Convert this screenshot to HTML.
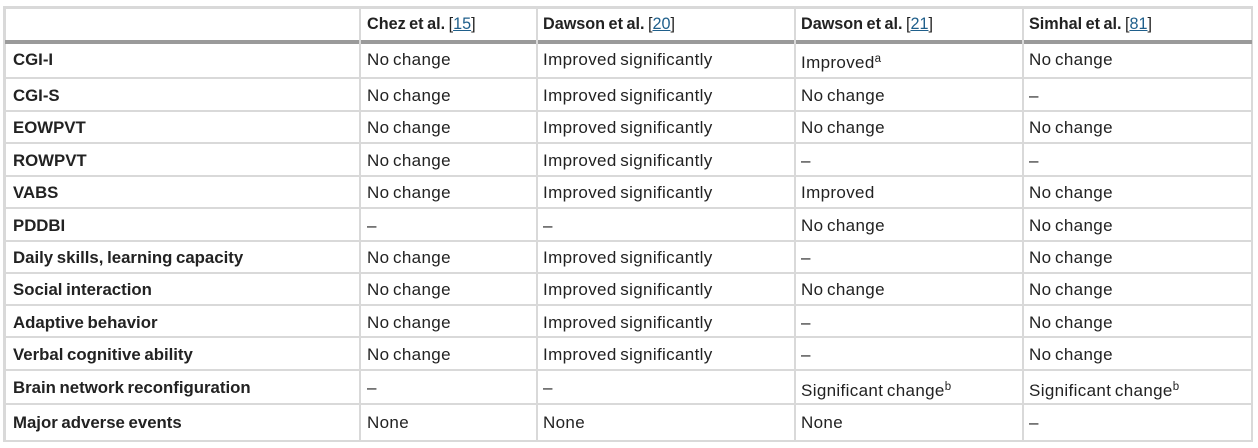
<!DOCTYPE html>
<html>
<head>
<meta charset="utf-8">
<style>
  html, body { margin:0; padding:0; background:#fff; }
  body { width:1258px; height:448px; position:relative; overflow:hidden;
         font-family:"Liberation Sans", "DejaVu Sans", sans-serif; color:#222; }
  .h { position:absolute; background:#d9d9d9; }
  .t { position:absolute; height:20px; line-height:20px; font-size:17px; white-space:nowrap; letter-spacing:0.35px; word-spacing:-1.5px; margin-top:1px; }
  .b { font-weight:bold; font-size:16.8px; letter-spacing:0; word-spacing:-1px; }
  .hd { font-weight:bold; font-size:16.2px; letter-spacing:0; word-spacing:-1px; }
  .n { font-weight:normal; }
  a { color:#1f5f8b; text-decoration:underline; font-weight:normal; }
  sup { font-size:11.5px; line-height:0; vertical-align:6px; }
</style>
</head>
<body>
<!-- outer border -->
<div class="h" style="left:3px;top:6px;width:1250px;height:3px;"></div>
<div class="h" style="left:3px;top:6px;width:3px;height:436px;"></div>
<div class="h" style="left:1251px;top:6px;width:2px;height:436px;"></div>
<div class="h" style="left:3px;top:440px;width:1250px;height:2px;"></div>
<!-- header thick rule -->
<div style="position:absolute;left:5px;top:40px;width:1247px;height:4px;background:#9a9a9a;"></div>
<!-- column lines -->
<div class="h" style="left:359px;top:9px;width:2px;height:431px;"></div>
<div class="h" style="left:536px;top:9px;width:2px;height:431px;"></div>
<div class="h" style="left:794px;top:9px;width:2px;height:431px;"></div>
<div class="h" style="left:1022px;top:9px;width:2px;height:431px;"></div>
<!-- row lines -->
<div class="h" style="left:5px;top:77px;width:1247px;height:2px;"></div>
<div class="h" style="left:5px;top:110px;width:1247px;height:2px;"></div>
<div class="h" style="left:5px;top:142px;width:1247px;height:2px;"></div>
<div class="h" style="left:5px;top:175px;width:1247px;height:2px;"></div>
<div class="h" style="left:5px;top:207px;width:1247px;height:2px;"></div>
<div class="h" style="left:5px;top:240px;width:1247px;height:2px;"></div>
<div class="h" style="left:5px;top:272px;width:1247px;height:2px;"></div>
<div class="h" style="left:5px;top:304px;width:1247px;height:2px;"></div>
<div class="h" style="left:5px;top:336px;width:1247px;height:2px;"></div>
<div class="h" style="left:5px;top:369px;width:1247px;height:2px;"></div>
<div class="h" style="left:5px;top:403px;width:1247px;height:2px;"></div>

<!-- header -->
<div class="t hd" style="left:367px;top:13px;">Chez et al. <span class="n">[</span><a>15</a><span class="n">]</span></div>
<div class="t hd" style="left:543px;top:13px;">Dawson et al. <span class="n">[</span><a>20</a><span class="n">]</span></div>
<div class="t hd" style="left:801px;top:13px;">Dawson et al. <span class="n">[</span><a>21</a><span class="n">]</span></div>
<div class="t hd" style="left:1029px;top:13px;">Simhal et al. <span class="n">[</span><a>81</a><span class="n">]</span></div>

<!-- row 1 -->
<div class="t b" style="left:13px;top:49px;">CGI-I</div>
<div class="t" style="left:367px;top:49px;">No change</div>
<div class="t" style="left:543px;top:49px;">Improved significantly</div>
<div class="t" style="left:801px;top:52px;">Improved<sup>a</sup></div>
<div class="t" style="left:1029px;top:49px;">No change</div>
<!-- row 2 -->
<div class="t b" style="left:13px;top:85px;">CGI-S</div>
<div class="t" style="left:367px;top:85px;">No change</div>
<div class="t" style="left:543px;top:85px;">Improved significantly</div>
<div class="t" style="left:801px;top:85px;">No change</div>
<div class="t" style="left:1029px;top:85px;">–</div>
<!-- row 3 -->
<div class="t b" style="left:13px;top:117px;">EOWPVT</div>
<div class="t" style="left:367px;top:117px;">No change</div>
<div class="t" style="left:543px;top:117px;">Improved significantly</div>
<div class="t" style="left:801px;top:117px;">No change</div>
<div class="t" style="left:1029px;top:117px;">No change</div>
<!-- row 4 -->
<div class="t b" style="left:13px;top:150px;">ROWPVT</div>
<div class="t" style="left:367px;top:150px;">No change</div>
<div class="t" style="left:543px;top:150px;">Improved significantly</div>
<div class="t" style="left:801px;top:150px;">–</div>
<div class="t" style="left:1029px;top:150px;">–</div>
<!-- row 5 -->
<div class="t b" style="left:13px;top:182px;">VABS</div>
<div class="t" style="left:367px;top:182px;">No change</div>
<div class="t" style="left:543px;top:182px;">Improved significantly</div>
<div class="t" style="left:801px;top:182px;">Improved</div>
<div class="t" style="left:1029px;top:182px;">No change</div>
<!-- row 6 -->
<div class="t b" style="left:13px;top:215px;">PDDBI</div>
<div class="t" style="left:367px;top:215px;">–</div>
<div class="t" style="left:543px;top:215px;">–</div>
<div class="t" style="left:801px;top:215px;">No change</div>
<div class="t" style="left:1029px;top:215px;">No change</div>
<!-- row 7 -->
<div class="t b" style="left:13px;top:247px;">Daily skills, learning capacity</div>
<div class="t" style="left:367px;top:247px;">No change</div>
<div class="t" style="left:543px;top:247px;">Improved significantly</div>
<div class="t" style="left:801px;top:247px;">–</div>
<div class="t" style="left:1029px;top:247px;">No change</div>
<!-- row 8 -->
<div class="t b" style="left:13px;top:279px;">Social interaction</div>
<div class="t" style="left:367px;top:279px;">No change</div>
<div class="t" style="left:543px;top:279px;">Improved significantly</div>
<div class="t" style="left:801px;top:279px;">No change</div>
<div class="t" style="left:1029px;top:279px;">No change</div>
<!-- row 9 -->
<div class="t b" style="left:13px;top:312px;">Adaptive behavior</div>
<div class="t" style="left:367px;top:312px;">No change</div>
<div class="t" style="left:543px;top:312px;">Improved significantly</div>
<div class="t" style="left:801px;top:312px;">–</div>
<div class="t" style="left:1029px;top:312px;">No change</div>
<!-- row 10 -->
<div class="t b" style="left:13px;top:344px;">Verbal cognitive ability</div>
<div class="t" style="left:367px;top:344px;">No change</div>
<div class="t" style="left:543px;top:344px;">Improved significantly</div>
<div class="t" style="left:801px;top:344px;">–</div>
<div class="t" style="left:1029px;top:344px;">No change</div>
<!-- row 11 -->
<div class="t b" style="left:13px;top:377px;">Brain network reconfiguration</div>
<div class="t" style="left:367px;top:377px;">–</div>
<div class="t" style="left:543px;top:377px;">–</div>
<div class="t" style="left:801px;top:380px;">Significant change<sup>b</sup></div>
<div class="t" style="left:1029px;top:380px;">Significant change<sup>b</sup></div>
<!-- row 12 -->
<div class="t b" style="left:13px;top:412px;">Major adverse events</div>
<div class="t" style="left:367px;top:412px;">None</div>
<div class="t" style="left:543px;top:412px;">None</div>
<div class="t" style="left:801px;top:412px;">None</div>
<div class="t" style="left:1029px;top:412px;">–</div>
</body>
</html>
